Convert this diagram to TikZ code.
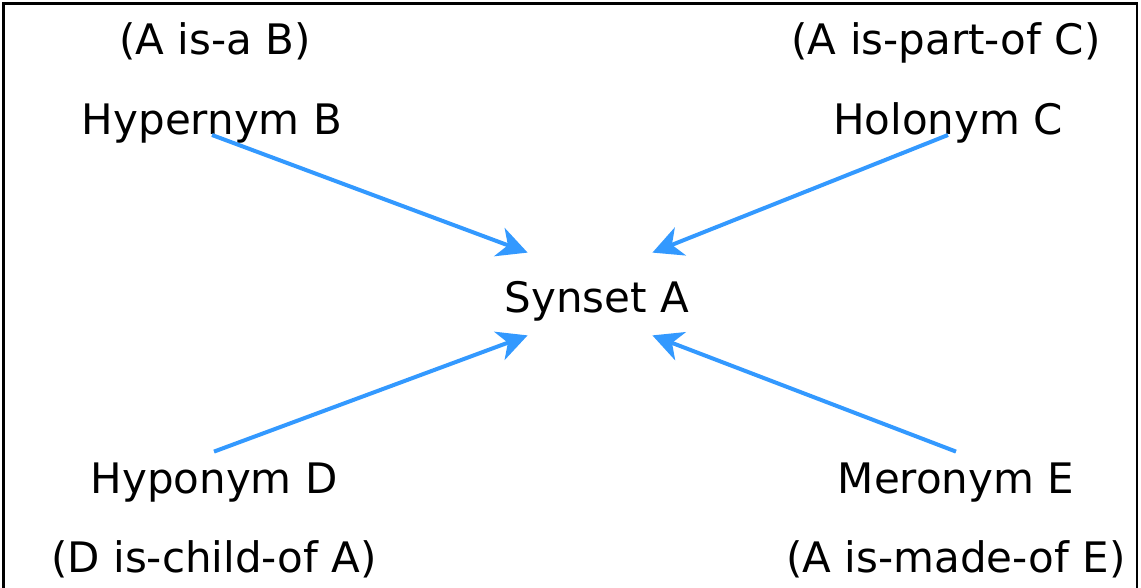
\documentclass[tikz,border=0pt]{standalone}
\usepackage{fontspec}
\setmainfont{DejaVu Sans}
\usetikzlibrary{arrows.meta}
\definecolor{relblue}{HTML}{3399FF}
\tikzset{
	word/.style={inner sep=0pt, anchor=base, font=\fontsize{21pt}{25pt}\selectfont, text height=20.5pt},
	synbox/.style={inner sep=0pt, font=\fontsize{21pt}{25pt}\selectfont, text height=19pt, text depth=0pt, minimum width=62pt, minimum height=41pt},
	rel/.style={line width=2pt, color=relblue, -{Stealth[length=15pt, width=15pt, inset=4.5pt]}},
}

\begin{document}
\begin{tikzpicture}[x=0.5pt, y=-0.5pt]
		%%%%% START %%%%%
		
		\useasboundingbox (0, 0) rectangle (1141, 588);
		\draw[line width=1.25pt] (3.5, 600) -- (3.5, 3.5) -- (1137, 3.5) -- (1137, 600);
		
		\node[synbox] (syn) at (590, 294) {\makebox[62pt]{\hspace*{7pt}Synset A}};
		
		\node[word] (isa) at (215, 55) {(A is-a B)};
		\node[word] (hyper) at (212, 135) {Hypernym B};
		
		\node[word] (partof) at (946, 55) {(A is-part-of C)};
		\node[word] (holo) at (948, 135) {Holonym C};
		
		\node[word] (hypo) at (214, 493) {Hyponym D};
		\node[word] (child) at (214, 572) {(D is-child-of A)};
		
		\node[word] (mero) at (956, 493) {Meronym E};
		\node[word] (madeof) at (956, 572) {(A is-made-of E)};
		
		\draw[rel] (hyper.base) -- (syn.north west);
		\draw[rel] (holo.base) -- (syn.north east);
		\draw[rel] (hypo.north) -- (syn.south west);
		\draw[rel] (mero.north) -- (syn.south east);
		
		%%%%% END %%%%%
	\end{tikzpicture}
\end{document}
